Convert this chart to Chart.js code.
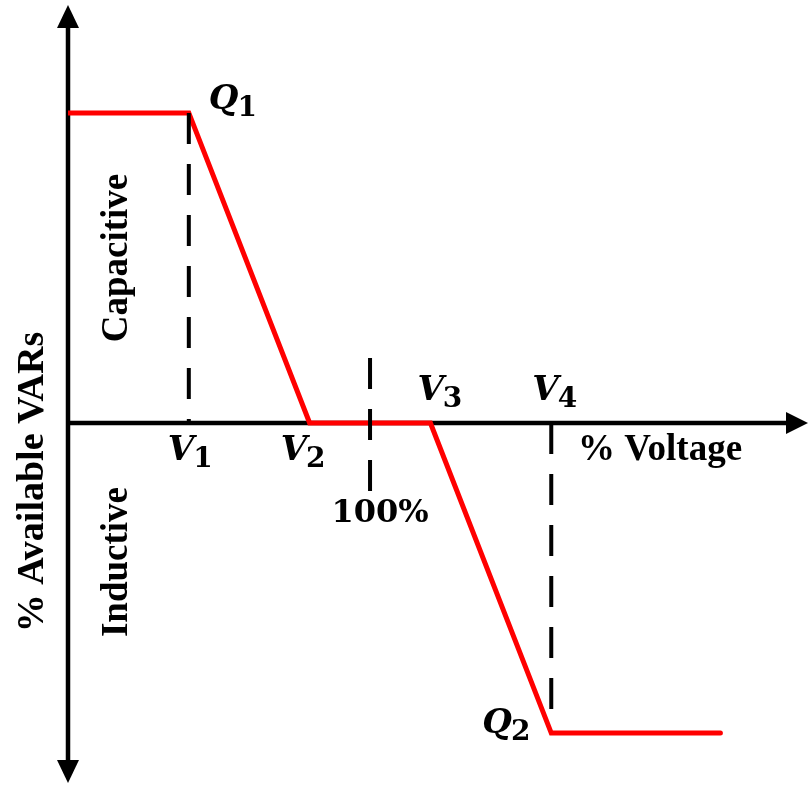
<!DOCTYPE html>
<html>
<head>
<meta charset="utf-8">
<script src="https://cdn.jsdelivr.net/npm/chart.js@4.4.1/dist/chart.umd.min.js"></script>
<style>
  html, body { margin: 0; padding: 0; background: #ffffff; }
  #wrap { width: 811px; height: 786px; }
</style>
</head>
<body>
<div id="wrap"><canvas id="chart-voltvar" width="811" height="786"></canvas></div>
<script>
// ------------------------------------------------------------
// Datos de la curva volt-var (% tensión vs % VARs disponibles)
// ------------------------------------------------------------
const voltagePoints = [90, 94, 98, 102, 106, 111.6];
const varPoints     = [100, 100, 0, 0, -100, -100];

// líneas discontinuas de referencia (V1, 100%, V4)
const dashV1   = { x: [94, 94],   y: [100, 0] };
const dashNom  = { x: [100, 100], y: [21, -22] };
const dashV4   = { x: [106, 106], y: [0, -98] };

// etiquetas
const symbolLabels = [
    { base: 'Q', sub: '1' },
    { base: 'V', sub: '1' },
    { base: 'V', sub: '2' },
    { base: 'V', sub: '3' },
    { base: 'V', sub: '4' },
    { base: 'Q', sub: '2' }
];
const nominalLabel = '100%';
const xAxisTitle   = '% Voltage';
const yAxisTitle   = '% Available VARs';
const upperRegion  = 'Capacitive';
const lowerRegion  = 'Inductive';

const toXY = (xs, ys) => xs.map((x, i) => ({ x: x, y: ys[i] }));

// ------------------------------------------------------------
// Plugin: ejes con flechas y textos
// ------------------------------------------------------------
const axesPlugin = {
    id: 'axesArrows',
    beforeDatasetsDraw(chart) {
        const { ctx, chartArea: a, scales } = chart;
        const x0 = scales.x.getPixelForValue(scales.x.min);
        const y0 = scales.y.getPixelForValue(0);
        ctx.save();
        ctx.strokeStyle = '#000';
        ctx.fillStyle = '#000';
        ctx.lineWidth = 4.5;
        // eje vertical
        ctx.beginPath();
        ctx.moveTo(x0, a.top + 20);
        ctx.lineTo(x0, a.bottom - 20);
        ctx.stroke();
        // eje horizontal
        ctx.beginPath();
        ctx.moveTo(x0, y0);
        ctx.lineTo(a.right - 18, y0);
        ctx.stroke();
        // flechas
        const head = (pts) => {
            ctx.beginPath();
            ctx.moveTo(pts[0][0], pts[0][1]);
            ctx.lineTo(pts[1][0], pts[1][1]);
            ctx.lineTo(pts[2][0], pts[2][1]);
            ctx.closePath();
            ctx.fill();
        };
        head([[x0, a.top], [x0 - 11, a.top + 23], [x0 + 11, a.top + 23]]);
        head([[x0, a.bottom], [x0 - 11, a.bottom - 23], [x0 + 11, a.bottom - 23]]);
        head([[a.right, y0], [a.right - 22, y0 - 11], [a.right - 22, y0 + 11]]);
        ctx.restore();
    },
    afterDatasetsDraw(chart) {
        const { ctx, scales } = chart;
        const px = v => scales.x.getPixelForValue(v);
        const py = v => scales.y.getPixelForValue(v);
        ctx.save();
        ctx.fillStyle = '#000';
        ctx.textAlign = 'left';
        ctx.textBaseline = 'alphabetic';

        const sym = (lbl, x, y) => {
            ctx.font = 'italic bold 34px "DejaVu Serif"';
            ctx.fillText(lbl.base, x, y);
            const w = ctx.measureText(lbl.base).width;
            ctx.font = 'bold 28px "DejaVu Serif"';
            ctx.fillText(lbl.sub, x + w - 1, y + 7);
        };
        const xV1 = px(voltagePoints[1]), xV2 = px(voltagePoints[2]);
        const xV3 = px(voltagePoints[3]), xV4 = px(voltagePoints[4]);
        const yQ1 = py(varPoints[0]), yQ2 = py(varPoints[4]), y0 = py(0);

        sym(symbolLabels[0], xV1 + 20, yQ1 - 4);
        sym(symbolLabels[1], xV1 - 21, y0 + 37);
        sym(symbolLabels[2], xV2 - 29, y0 + 37);
        sym(symbolLabels[3], xV3 - 13, y0 - 23);
        sym(symbolLabels[4], xV4 - 19, y0 - 23);
        sym(symbolLabels[5], xV4 - 69, yQ2);

        ctx.font = 'bold 32px "DejaVu Serif"';
        ctx.textAlign = 'center';
        ctx.fillText(nominalLabel, px(100) + 10, y0 + 99);

        ctx.font = 'bold 37px "Liberation Serif"';
        ctx.textAlign = 'left';
        ctx.fillText(xAxisTitle, 578, y0 + 37);

        const vert = (txt, x, y) => {
            ctx.save();
            ctx.translate(x, y);
            ctx.rotate(-Math.PI / 2);
            ctx.textAlign = 'center';
            ctx.fillText(txt, 0, 0);
            ctx.restore();
        };
        vert(upperRegion, 127, 258);
        vert(lowerRegion, 127, 562);
        ctx.font = 'bold 38px "Liberation Serif"';
        vert(yAxisTitle, 43, 482);
        ctx.restore();
    }
};

// ------------------------------------------------------------
// Gráfico
// ------------------------------------------------------------
const dashStyle = {
    borderColor: '#000',
    borderWidth: 4,
    borderDash: [31, 20],
    pointRadius: 0,
    fill: false,
    order: 0
};

new Chart(document.getElementById('chart-voltvar'), {
    type: 'line',
    data: {
        datasets: [
            { ...dashStyle, label: 'V1', data: toXY(dashV1.x, dashV1.y) },
            { ...dashStyle, label: '100%', data: toXY(dashNom.x, dashNom.y) },
            { ...dashStyle, label: 'V4', data: toXY(dashV4.x, dashV4.y) },
            {
                label: 'Volt-VAR',
                data: toXY(voltagePoints, varPoints),
                borderColor: '#ff0000',
                borderWidth: 5,
                borderCapStyle: 'round',
                borderJoinStyle: 'miter',
                pointRadius: 0,
                tension: 0,
                fill: false,
                order: 1
            }
        ]
    },
    options: {
        responsive: false,
        animation: false,
        devicePixelRatio: 1,
        layout: { padding: { left: 68, right: 3, top: 5, bottom: 3 } },
        plugins: { legend: { display: false }, tooltip: { enabled: false } },
        scales: {
            x: { type: 'linear', display: false, min: 90, max: 114.5 },
            y: { type: 'linear', display: false, min: -116.1, max: 134.8 }
        }
    },
    plugins: [axesPlugin]
});
</script>
</body>
</html>
